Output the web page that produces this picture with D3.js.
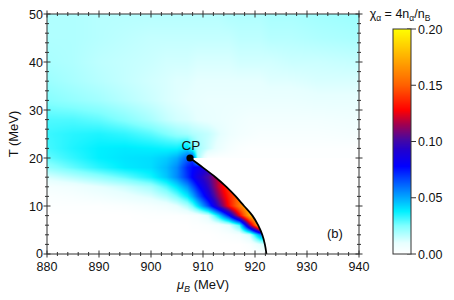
<!DOCTYPE html>
<html>
<head>
<meta charset="utf-8">
<script src="https://cdn.jsdelivr.net/npm/d3@7"></script>
<style>
  body { margin: 0; background: #fff; }
  text { font-family: "Liberation Sans", Arial, sans-serif; fill: #111; }
</style>
</head>
<body>
<script>
// ---- data ----
const muGrid = [880, 885, 890, 895, 900, 903, 905, 907, 908, 909, 911, 913, 915, 917, 919, 921, 923, 927, 932, 940];
const tGrid = [0, 2, 4, 6, 8, 10, 12, 14, 16, 18, 20, 22, 25, 28, 32, 36, 40, 45, 50];
// chi_alpha, one row per tGrid value (low T first)
const chiGrid = [
  [0,0,0,0,0,0,0,0,0,0,0,0,0,0,0,0,0,0,0,0],
  [0,0,0,0,0,0,0,0,0,0,0,0,0,0,0.002,0.01,0.02,0,0,0],
  [0,0,0,0,0,0,0,0,0,0,0,0.001,0.002,0.004,0.014,0.055,0.06,0,0,0],
  [0,0,0,0,0,0,0,0,0.001,0.001,0.002,0.004,0.01,0.03,0.11,0.185,0.185,0,0,0],
  [0,0,0,0,0.001,0.001,0.001,0.002,0.003,0.004,0.012,0.04,0.075,0.125,0.175,0.185,0.185,0,0,0],
  [0.001,0.001,0.001,0.002,0.004,0.006,0.01,0.018,0.027,0.04,0.066,0.098,0.13,0.158,0.18,0.18,0.18,0,0,0],
  [0.002,0.003,0.005,0.008,0.012,0.018,0.026,0.038,0.049,0.062,0.085,0.112,0.135,0.155,0.16,0.16,0.16,0,0,0],
  [0.004,0.006,0.01,0.014,0.02,0.03,0.04,0.053,0.064,0.075,0.095,0.12,0.14,0.14,0.14,0.14,0.14,0,0,0],
  [0.012,0.017,0.022,0.028,0.036,0.045,0.055,0.07,0.079,0.088,0.102,0.12,0.12,0.12,0.12,0.12,0.12,0,0,0],
  [0.022,0.028,0.034,0.039,0.041,0.047,0.055,0.072,0.077,0.082,0.092,0.092,0.092,0.092,0.092,0.092,0.092,0,0,0],
  [0.028,0.033,0.038,0.04,0.041,0.044,0.049,0.062,0.068,0.02,0.002,0.001,0.001,0.001,0.001,0.001,0.001,0.001,0.001,0.001],
  [0.031,0.035,0.038,0.039,0.038,0.037,0.037,0.042,0.03,0.02,0.014,0.008,0.004,0.002,0.001,0.001,0.001,0.001,0.001,0.001],
  [0.032,0.034,0.035,0.033,0.029,0.025,0.022,0.02,0.018,0.017,0.015,0.011,0.007,0.005,0.004,0.003,0.003,0.003,0.003,0.004],
  [0.03,0.03,0.028,0.024,0.019,0.015,0.013,0.012,0.011,0.01,0.009,0.008,0.007,0.006,0.005,0.005,0.005,0.005,0.005,0.006],
  [0.024,0.022,0.02,0.017,0.014,0.012,0.011,0.01,0.0095,0.009,0.008,0.008,0.008,0.008,0.008,0.008,0.008,0.008,0.009,0.009],
  [0.021,0.019,0.017,0.015,0.013,0.012,0.011,0.011,0.0105,0.01,0.01,0.01,0.01,0.01,0.01,0.01,0.011,0.011,0.012,0.012],
  [0.019,0.018,0.016,0.015,0.014,0.013,0.013,0.013,0.0125,0.012,0.012,0.012,0.012,0.013,0.013,0.013,0.013,0.014,0.014,0.015],
  [0.018,0.018,0.017,0.016,0.015,0.015,0.015,0.015,0.015,0.015,0.015,0.015,0.015,0.016,0.016,0.016,0.017,0.017,0.018,0.019],
  [0.018,0.018,0.017,0.017,0.017,0.017,0.017,0.017,0.017,0.017,0.017,0.017,0.018,0.018,0.018,0.018,0.019,0.019,0.02,0.021]
];

// first order line from the critical point down to T = 0
const boundaryT  = [20, 18, 16, 14, 12, 10, 8, 6, 4, 2, 0];
const boundaryMu = [907.5, 910.0, 912.4, 914.5, 916.3, 917.9, 919.5, 920.6, 921.4, 921.9, 922.2];
const cpMu = 907.5, cpT = 20;

const xTicks = [880, 890, 900, 910, 920, 930, 940];
const yTicks = [0, 10, 20, 30, 40, 50];
const cbTicks = [0, 0.05, 0.10, 0.15, 0.20];

const cmapValues = [0, 0.01, 0.025, 0.038, 0.05, 0.065, 0.078, 0.092, 0.102, 0.115, 0.128, 0.15, 0.175, 0.2];
const cmapColors = ["#ffffff", "#e6ffff", "#80ffff", "#00f0ff", "#00a8ff", "#0050ff", "#0000ff",
                    "#2000d0", "#4808a0", "#a00050", "#ff0000", "#ff6000", "#ffb000", "#ffff00"];

// ---- layout ----
const W = 454, H = 300;
const plot = {left: 47, right: 359, top: 14, bottom: 254};
const cb = {left: 393, right: 411, top: 29, bottom: 254};

const svg = d3.select("body").append("svg")
    .attr("width", W)
    .attr("height", H);

const x = d3.scaleLinear().domain([880, 940]).range([plot.left, plot.right]);
const y = d3.scaleLinear().domain([0, 50]).range([plot.bottom, plot.top]);
const color = d3.scaleLinear().domain(cmapValues).range(cmapColors).clamp(true);
const boundary = d3.scaleLinear().domain(boundaryT).range(boundaryMu);

// bilinear lookup in the grid
function chiAt(mu, T) {
    let i = Math.max(0, Math.min(muGrid.length - 2, d3.bisectRight(muGrid, mu) - 1));
    let j = Math.max(0, Math.min(tGrid.length - 2, d3.bisectRight(tGrid, T) - 1));
    let fx = (mu - muGrid[i]) / (muGrid[i + 1] - muGrid[i]);
    let fy = (T - tGrid[j]) / (tGrid[j + 1] - tGrid[j]);
    fx = Math.max(0, Math.min(1, fx));
    fy = Math.max(0, Math.min(1, fy));
    const a = chiGrid[j][i], b = chiGrid[j][i + 1];
    const c = chiGrid[j + 1][i], d = chiGrid[j + 1][i + 1];
    return (a * (1 - fx) + b * fx) * (1 - fy) + (c * (1 - fx) + d * fx) * fy;
}

// heat map rendered into a canvas, then placed as an image
const pw = plot.right - plot.left, ph = plot.bottom - plot.top;
const canvas = document.createElement("canvas");
canvas.width = pw;
canvas.height = ph;
const ctx = canvas.getContext("2d");
const img = ctx.createImageData(pw, ph);
for (let py = 0; py < ph; py++) {
    const T = y.invert(plot.top + py + 0.5);
    for (let px = 0; px < pw; px++) {
        const mu = x.invert(plot.left + px + 0.5);
        let v = 0;
        if (!(T < cpT && mu > boundary(T))) v = chiAt(mu, T);
        const c = d3.rgb(color(v));
        const k = (py * pw + px) * 4;
        img.data[k] = c.r; img.data[k + 1] = c.g; img.data[k + 2] = c.b; img.data[k + 3] = 255;
    }
}
ctx.putImageData(img, 0, 0);

svg.append("image")
    .attr("x", plot.left).attr("y", plot.top)
    .attr("width", pw).attr("height", ph)
    .attr("preserveAspectRatio", "none")
    .attr("href", canvas.toDataURL());

// phase boundary + CP
const line = d3.line()
    .x((d, i) => x(boundaryMu[i]))
    .y(d => y(d))
    .curve(d3.curveCatmullRom);
svg.append("path")
    .attr("d", line(boundaryT))
    .attr("fill", "none")
    .attr("stroke", "#000")
    .attr("stroke-width", 1.8);

svg.append("circle")
    .attr("cx", x(cpMu)).attr("cy", y(cpT))
    .attr("r", 3.6)
    .attr("fill", "#000");

svg.append("text")
    .attr("x", x(cpMu) + 1).attr("y", y(cpT) - 8)
    .attr("text-anchor", "middle")
    .style("font-size", "13.5px")
    .text("CP");

svg.append("text")
    .attr("x", 327).attr("y", 238)
    .style("font-size", "13px")
    .text("(b)");

// frame and ticks
const axisColor = "#333";
svg.append("rect")
    .attr("x", plot.left).attr("y", plot.top)
    .attr("width", pw).attr("height", ph)
    .attr("fill", "none").attr("stroke", axisColor).attr("stroke-width", 1);

const ticks = svg.append("g").attr("stroke", axisColor).attr("stroke-width", 1);
const xMinor = d3.range(880, 940.1, 2);
const yMinor = d3.range(0, 50.1, 2);

xMinor.forEach(v => {
    const len = xTicks.includes(v) ? 3.5 : 2;
    [plot.bottom, plot.top].forEach(yy => {
        ticks.append("line").attr("x1", x(v)).attr("x2", x(v)).attr("y1", yy - len).attr("y2", yy + len);
    });
});
yMinor.forEach(v => {
    const len = yTicks.includes(v) ? 3.5 : 2;
    [plot.left, plot.right].forEach(xx => {
        ticks.append("line").attr("y1", y(v)).attr("y2", y(v)).attr("x1", xx - len).attr("x2", xx + len);
    });
});

svg.selectAll(".xlab").data(xTicks).join("text")
    .attr("class", "xlab")
    .attr("x", d => x(d)).attr("y", 271)
    .attr("text-anchor", "middle")
    .style("font-size", "12.5px")
    .text(d => d);

svg.selectAll(".ylab").data(yTicks).join("text")
    .attr("class", "ylab")
    .attr("x", 43).attr("y", d => y(d) + (d === 0 ? 3.5 : 4.5))
    .attr("text-anchor", "end")
    .style("font-size", "12.5px")
    .text(d => d);

// axis titles
const xt = svg.append("text")
    .attr("x", 203).attr("y", 289)
    .attr("text-anchor", "middle")
    .style("font-size", "13px");
xt.append("tspan").style("font-style", "italic").text("μ");
xt.append("tspan").style("font-style", "italic").style("font-size", "9px").attr("dy", 3).text("B");
xt.append("tspan").attr("dy", -3).text(" (MeV)");

svg.append("text")
    .attr("transform", "translate(18,134) rotate(-90)")
    .attr("text-anchor", "middle")
    .style("font-size", "13px")
    .text("T (MeV)");

// colour bar
const cbScale = d3.scaleLinear().domain([0, 0.2]).range([cb.bottom, cb.top]);
const cbSteps = d3.range(cb.top, cb.bottom, 1);
svg.append("g").selectAll("rect").data(cbSteps).join("rect")
    .attr("x", cb.left).attr("y", d => d)
    .attr("width", cb.right - cb.left).attr("height", 1.2)
    .attr("fill", d => color(cbScale.invert(d + 0.5)));
svg.append("rect")
    .attr("x", cb.left).attr("y", cb.top)
    .attr("width", cb.right - cb.left).attr("height", cb.bottom - cb.top)
    .attr("fill", "none").attr("stroke", axisColor).attr("stroke-width", 1);

const cbMinor = d3.range(0, 0.2001, 0.0125);
cbMinor.forEach(v => {
    const major = cbTicks.some(t => Math.abs(t - v) < 1e-6);
    ticks.append("line")
        .attr("x1", cb.right - 4).attr("x2", cb.right + (major ? 5 : 0))
        .attr("y1", cbScale(v)).attr("y2", cbScale(v));
});

svg.selectAll(".cblab").data(cbTicks).join("text")
    .attr("class", "cblab")
    .attr("x", 418).attr("y", d => cbScale(d) + 4.5)
    .style("font-size", "12.5px")
    .text(d => d3.format(".2f")(d));

const title = svg.append("text")
    .attr("x", 400).attr("y", 18)
    .attr("text-anchor", "middle")
    .style("font-size", "12.5px");
title.append("tspan").text("χ");
title.append("tspan").style("font-size", "8.5px").attr("dy", 3).text("α");
title.append("tspan").attr("dy", -3).text(" = 4n");
title.append("tspan").style("font-size", "8.5px").attr("dy", 3).text("α");
title.append("tspan").attr("dy", -3).text("/n");
title.append("tspan").style("font-size", "8.5px").attr("dy", 3).text("B");
</script>
</body>
</html>
